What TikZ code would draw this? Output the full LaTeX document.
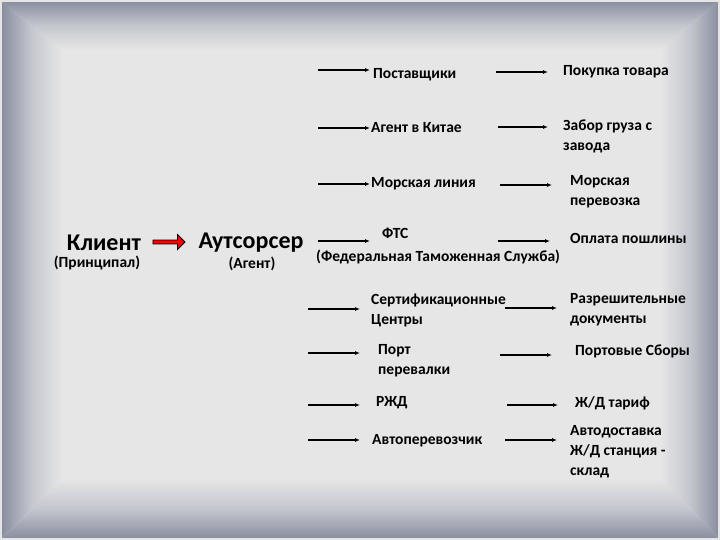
\documentclass[tikz,border=0pt]{standalone}
\usepackage{fontspec}
\setmainfont{Carlito}
\usetikzlibrary{shapes.arrows,arrows.meta}
\definecolor{edgec}{HTML}{868A9C}
\definecolor{midc}{HTML}{C4C6CE}
\definecolor{bgc}{HTML}{E6E6E6}
\tikzset{
  lbl/.style={font=\bfseries\fontsize{15.5}{20}\selectfont, anchor=west, inner sep=0pt, align=left},
  big/.style={font=\bfseries\fontsize{24}{26}\selectfont, inner sep=0pt},
  sub/.style={font=\bfseries\fontsize{15.5}{17}\selectfont, inner sep=0pt},
  conn/.style={-{Latex[length=5pt,width=4pt]}, line width=1.6pt},
}
\begin{document}
\begin{tikzpicture}[x=1pt,y=-1pt]
\useasboundingbox (0,0) rectangle (720,540);
\fill[bgc] (0,0) rectangle (720,540);
% bevel frame
\begin{scope}
\clip (0,0) -- (720,0) -- (660,50) -- (62,50) -- cycle;
\shade[top color=edgec, bottom color=bgc, middle color=midc] (0,0) rectangle (720,50);
\end{scope}
\begin{scope}
\clip (0,0) -- (62,50) -- (62,478) -- (0,540) -- cycle;
\shade[left color=edgec, right color=bgc, middle color=midc] (0,0) rectangle (62,540);
\end{scope}
\begin{scope}
\clip (720,0) -- (660,50) -- (660,478) -- (720,540) -- cycle;
\shade[left color=bgc, right color=edgec, middle color=midc] (660,0) rectangle (720,540);
\end{scope}
\begin{scope}
\clip (0,540) -- (62,478) -- (660,478) -- (720,540) -- cycle;
\shade[top color=bgc, bottom color=edgec, middle color=midc] (0,478) rectangle (720,540);
\end{scope}
\draw[white!80!gray, line width=2pt] (1,1) rectangle (719,539);

% left part
\node[big] (kl) at (104,243) {Клиент};
\node[sub] (pr) at (97,263) {(Принципал)};
\node[big] (au) at (251,243) {Аутсорсер};
\node[sub] (ag) at (252,264) {(Агент)};
\node[single arrow, fill=red, draw=black, line width=0.8pt, minimum height=32pt, minimum width=15pt, single arrow head extend=2.5pt, inner sep=0.5pt] (ra) at (168,242) {};

% middle labels
\node[lbl] (m1) at (373,75) {Поставщики};
\node[lbl] (m2) at (371,128) {Агент в Китае};
\node[lbl] (m3) at (371,184) {Морская линия};
\node[lbl] (m4) at (382,233) {ФТС};
\node[lbl] (m4b) at (316,257) {(Федеральная Таможенная Служба)};
\node[lbl] (m5) at (371,310) {Сертификационные\\Центры};
\node[lbl] (m6) at (378,361) {Порт\\перевалки};
\node[lbl] (m7) at (376,403) {РЖД};
\node[lbl] (m8) at (372,441) {Автоперевозчик};

% right labels
\node[lbl] (r1) at (563,72) {Покупка товара};
\node[lbl] (r2) at (563,136) {Забор груза с\\завода};
\node[lbl] (r3) at (570,192) {Морская\\перевозка};
\node[lbl] (r4) at (570,238) {Оплата пошлины};
\node[lbl] (r5) at (570,310) {Разрешительные\\документы};
\node[lbl] (r6) at (575,351) {Портовые Сборы};
\node[lbl] (r7) at (575,403) {Ж/Д тариф};
\node[lbl] (r8) at (570,452) {Автодоставка\\Ж/Д станция -\\склад};

% arrows
\foreach \n/\xa/\xb/\y in {a1/318/370/70, a2/318/370/128, a3/318/370/184, a4/318/370/241,
  a5/308/360/309, a6/308/360/353, a7/308/360/405, a8/308/360/440,
  b1/496/548/72, b2/498/548/127, b3/500/552/185, b4/498/550/241,
  b5/505/557/308, b6/500/552/355, b7/507/558/405, b8/505/557/440} {
  \coordinate (\n s) at (\xa,\y);
  \coordinate (\n e) at (\xb,\y);
  \draw[conn] (\n s) -- (\n e);
}
\end{tikzpicture}
\end{document}
